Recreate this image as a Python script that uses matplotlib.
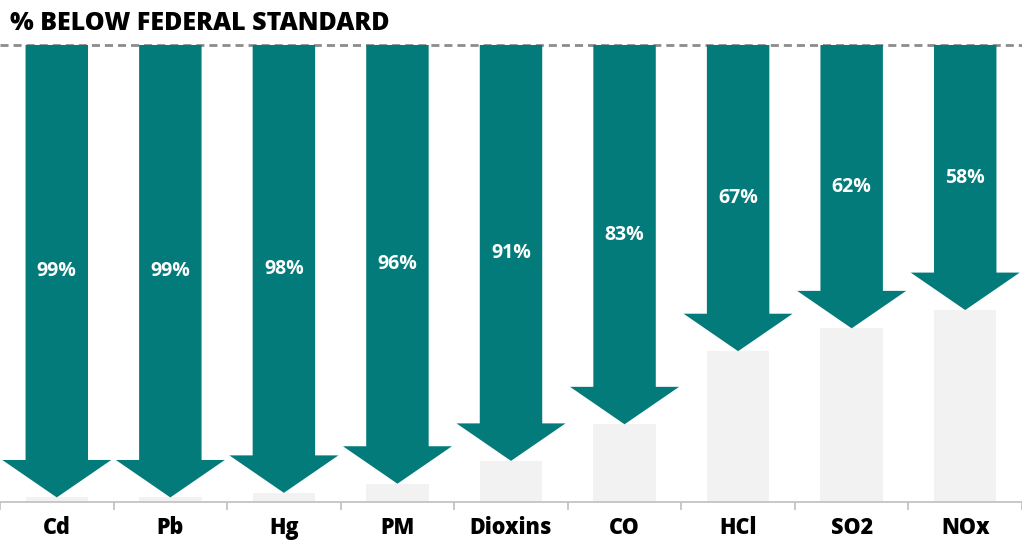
import matplotlib
matplotlib.use("Agg")
import matplotlib.pyplot as plt
from matplotlib.patches import FancyArrow

categories = ["Cd", "Pb", "Hg", "PM", "Dioxins", "CO", "HCl", "SO2", "NOx"]
pct_below = [99, 99, 98, 96, 91, 83, 67, 62, 58]
labels = [f"{v}%" for v in pct_below]
title = "% BELOW FEDERAL STANDARD"

TEAL = "#037B7A"
GRAY = "#F2F2F2"

fig = plt.figure(figsize=(10.22, 5.40), dpi=100)
ax = fig.add_axes([0.0, 38 / 540, 1.0, (495 - 38) / 540])
ax.set_xlim(-0.5, len(categories) - 0.5)
ax.set_ylim(0, 100)

x = list(range(len(categories)))
remaining = [100 - v for v in pct_below]
ax.bar(x, remaining, width=0.55, color=GRAY, zorder=1)

for i, v in enumerate(pct_below):
    arr = FancyArrow(i, 100, 0, -v, width=0.55, head_width=0.96, head_length=8.2,
                     length_includes_head=True, color=TEAL, lw=0, zorder=3)
    ax.add_patch(arr)
    ax.text(i, 100 - v / 2, labels[i], ha="center", va="center", color="white",
            fontsize=14, fontweight="bold", family="Open Sans", zorder=4)

ax.axhline(100, color="#8C8C8C", lw=2, ls=(0, (2.9, 1.8)), zorder=2, clip_on=False)

for s in ["top", "right", "left"]:
    ax.spines[s].set_visible(False)
ax.spines["bottom"].set_color("#BFBFBF")
ax.spines["bottom"].set_linewidth(1.2)
ax.set_yticks([])
ax.set_xticks(x)
ax.set_xticklabels(categories, fontsize=15.5, fontweight=800, family="Open Sans")
ax.tick_params(axis="x", which="major", length=0, pad=10)
ax.set_xticks([i + 0.5 for i in range(-1, len(categories))], minor=True)
ax.tick_params(axis="x", which="minor", length=6, color="#BFBFBF", width=1.2)

fig.text(10 / 1022, 1 - 24 / 540, title, ha="left", va="center", fontsize=18,
         fontweight=800, family="Open Sans")

fig.savefig("out.png", dpi=100)
